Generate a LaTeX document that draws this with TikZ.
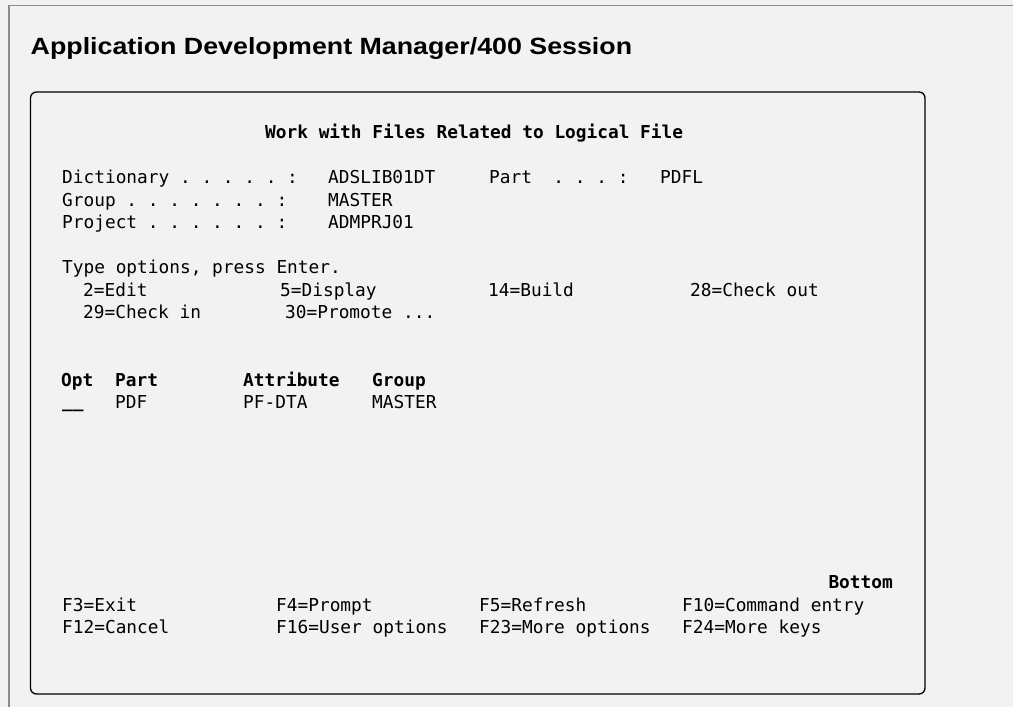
\documentclass[tikz,border=0pt]{standalone}
\usepackage{fontspec}
\setmonofont{DejaVu Sans Mono}
\newfontfamily\headfont[FakeStretch=1.14]{Liberation Sans}
\definecolor{panelbg}{HTML}{F2F2F2}
\definecolor{framegray}{HTML}{8C8C8C}
\tikzset{
  scr/.style={anchor=base west,inner sep=0pt,font=\ttfamily\fontsize{17.8}{20}\selectfont\frenchspacing},
  scrb/.style={scr,font=\ttfamily\bfseries\fontsize{17.8}{20}\selectfont\frenchspacing}
}

\begin{document}
\begin{tikzpicture}[x=1pt,y=-1pt]
			%Page and frames
			\fill[panelbg] (0,0) rectangle (1013,707);
			\useasboundingbox (0,0) rectangle (1013,707);
			\draw[framegray,line width=1pt] (8,5)--(1013,5);
			\draw[framegray,line width=2pt] (9,5)--(9,707);
			\draw[line width=1.3pt,rounded corners=6pt] (30.5,92) rectangle (925,694);
			\node[anchor=base west,inner sep=0pt,font=\headfont\bfseries\fontsize{23.5}{26}\selectfont] (head) at (30.5,54) {Application Development Manager/400 Session};
			%Screen title
			\node[scrb] (scrtitle) at (265,138.5) {Work with Files Related to Logical File};
			%Rows 3-5
			\node[scr] (dict) at (62,183.5) {Dictionary . . . . . :};
			\node[scr] (dictval) at (328,183.5) {ADSLIB01DT};
			\node[scr] (part) at (489,183.5) {Part~~. . . :};
			\node[scr] (partval) at (660,183.5) {PDFL};
			\node[scr] (grp) at (62,206) {Group . . . . . . . :};
			\node[scr] (grpval) at (328,206) {MASTER};
			\node[scr] (proj) at (62,228.5) {Project . . . . . . :};
			\node[scr] (projval) at (328,228.5) {ADMPRJ01};
			%Options
			\node[scr] (typeopt) at (62,273.5) {Type options, press Enter.};
			\node[scr] (opt2) at (83,296) {2=Edit};
			\node[scr] (opt5) at (280,296) {5=Display};
			\node[scr] (opt14) at (488,296) {14=Build};
			\node[scr] (opt28) at (690,296) {28=Check out};
			\node[scr] (opt29) at (83,318.5) {29=Check in};
			\node[scr] (opt30) at (285,318.5) {30=Promote ...};
			%List
			\node[scrb] (hopt) at (61,386) {Opt};
			\node[scrb] (hpart) at (115,386) {Part};
			\node[scrb] (hattr) at (243,386) {Attribute};
			\node[scrb] (hgrp) at (372,386) {Group};
			\node[scrb] (field) at (62,407.5) {\_\_};
			\node[scr] (lpart) at (115,408.5) {PDF};
			\node[scr] (lattr) at (243,408.5) {PF-DTA};
			\node[scr] (lgrp) at (372,408.5) {MASTER};
			%Function keys
			\node[scrb,anchor=base east] (bottom) at (893,588.5) {Bottom};
			\node[scr] (f3) at (62,611) {F3=Exit};
			\node[scr] (f4) at (276,611) {F4=Prompt};
			\node[scr] (f5) at (479,611) {F5=Refresh};
			\node[scr] (f10) at (682,611) {F10=Command entry};
			\node[scr] (f12) at (62,633.5) {F12=Cancel};
			\node[scr] (f16) at (276,633.5) {F16=User options};
			\node[scr] (f23) at (479,633.5) {F23=More options};
			\node[scr] (f24) at (682,633.5) {F24=More keys};
\end{tikzpicture}
\end{document}
